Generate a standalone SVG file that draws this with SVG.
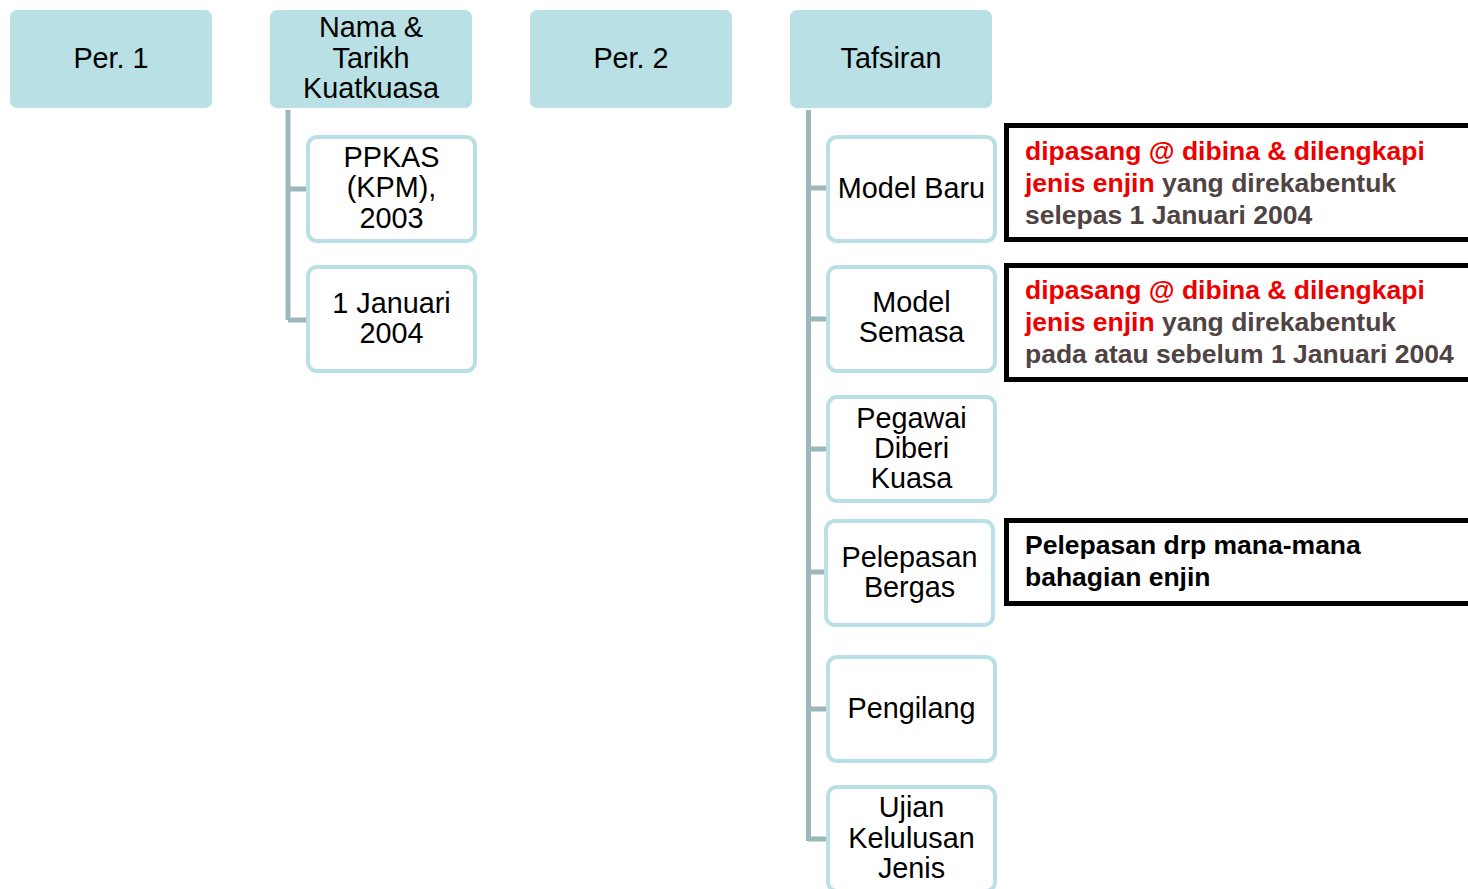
<svg xmlns="http://www.w3.org/2000/svg" width="1468" height="889" viewBox="0 0 1468 889">
  <style>
    .hdr { fill: #b9e0e4; }
    .child { fill: #ffffff; stroke: #b9e0e4; stroke-width: 4; }
    .note { fill: #ffffff; stroke: #000000; stroke-width: 5; }
    .lbl { font-family: "Liberation Sans", Arial, sans-serif; font-size: 28.8px; fill: #000000; text-anchor: middle; }
    .def { font-family: "Liberation Sans", Arial, sans-serif; font-size: 26.5px; font-weight: bold; fill: #4f4343; }
    .red { fill: #ee0000; }
    .blk { fill: #000000; }
    .conn { fill: none; stroke: #9db6b9; stroke-width: 5; }
  </style>

  <!-- connectors -->
  <g id="connectors">
    <path class="conn" d="M288 110 V320 M288 189 H307 M288 320 H307"/>
    <path class="conn" d="M808.5 110 V841 M808.5 188 H827 M808.5 319 H827 M808.5 449 H827 M808.5 572 H825 M808.5 709 H827 M808.5 839 H827"/>
  </g>

  <!-- top-level headings -->
  <g id="per1">
    <rect class="hdr" x="10" y="10" width="202" height="98" rx="7"/>
    <text class="lbl" x="111" y="68">Per. 1</text>
  </g>
  <g id="nama">
    <rect class="hdr" x="270" y="10" width="202" height="98" rx="7"/>
    <text class="lbl" x="371" y="37">Nama &amp;</text>
    <text class="lbl" x="371" y="68">Tarikh</text>
    <text class="lbl" x="371" y="98">Kuatkuasa</text>
  </g>
  <g id="per2">
    <rect class="hdr" x="530" y="10" width="202" height="98" rx="7"/>
    <text class="lbl" x="631" y="68">Per. 2</text>
  </g>
  <g id="tafsiran">
    <rect class="hdr" x="790" y="10" width="202" height="98" rx="7"/>
    <text class="lbl" x="891" y="68">Tafsiran</text>
  </g>

  <!-- children of Nama & Tarikh Kuatkuasa -->
  <g id="ppkas">
    <rect class="child" x="308" y="137" width="167" height="104" rx="9"/>
    <text class="lbl" x="391.5" y="167">PPKAS</text>
    <text class="lbl" x="391.5" y="197">(KPM),</text>
    <text class="lbl" x="391.5" y="228">2003</text>
  </g>
  <g id="januari">
    <rect class="child" x="308" y="267" width="167" height="104" rx="9"/>
    <text class="lbl" x="391.5" y="313">1 Januari</text>
    <text class="lbl" x="391.5" y="343">2004</text>
  </g>

  <!-- children of Tafsiran -->
  <g id="model-baru">
    <rect class="child" x="828" y="137" width="167" height="104" rx="9"/>
    <text class="lbl" x="911.5" y="198">Model Baru</text>
  </g>
  <g id="model-semasa">
    <rect class="child" x="828" y="267" width="167" height="104" rx="9"/>
    <text class="lbl" x="911.5" y="312">Model</text>
    <text class="lbl" x="911.5" y="342">Semasa</text>
  </g>
  <g id="pegawai">
    <rect class="child" x="828" y="397" width="167" height="104" rx="9"/>
    <text class="lbl" x="911.5" y="428">Pegawai</text>
    <text class="lbl" x="911.5" y="458">Diberi</text>
    <text class="lbl" x="911.5" y="488">Kuasa</text>
  </g>
  <g id="pelepasan">
    <rect class="child" x="826" y="521" width="167" height="104" rx="9"/>
    <text class="lbl" x="909.5" y="567">Pelepasan</text>
    <text class="lbl" x="909.5" y="597">Bergas</text>
  </g>
  <g id="pengilang">
    <rect class="child" x="828" y="657" width="167" height="104" rx="9"/>
    <text class="lbl" x="911.5" y="718">Pengilang</text>
  </g>
  <g id="ujian">
    <rect class="child" x="828" y="787" width="167" height="104" rx="9"/>
    <text class="lbl" x="911.5" y="817">Ujian</text>
    <text class="lbl" x="911.5" y="848">Kelulusan</text>
    <text class="lbl" x="911.5" y="878">Jenis</text>
  </g>

  <!-- definition notes -->
  <g id="note-baru">
    <rect class="note" x="1006.5" y="125.5" width="480" height="114"/>
    <text class="def red" x="1025" y="160">dipasang @ dibina &amp; dilengkapi</text>
    <text class="def" x="1025" y="192"><tspan class="red">jenis enjin</tspan> yang direkabentuk</text>
    <text class="def" x="1025" y="224">selepas 1 Januari 2004</text>
  </g>
  <g id="note-semasa">
    <rect class="note" x="1006.5" y="265.5" width="480" height="114"/>
    <text class="def red" x="1025" y="299">dipasang @ dibina &amp; dilengkapi</text>
    <text class="def" x="1025" y="331"><tspan class="red">jenis enjin</tspan> yang direkabentuk</text>
    <text class="def" x="1025" y="363">pada atau sebelum 1 Januari 2004</text>
  </g>
  <g id="note-pelepasan">
    <rect class="note" x="1006.5" y="520.5" width="480" height="83"/>
    <text class="def blk" x="1025" y="554">Pelepasan drp mana-mana</text>
    <text class="def blk" x="1025" y="586">bahagian enjin</text>
  </g>
</svg>
